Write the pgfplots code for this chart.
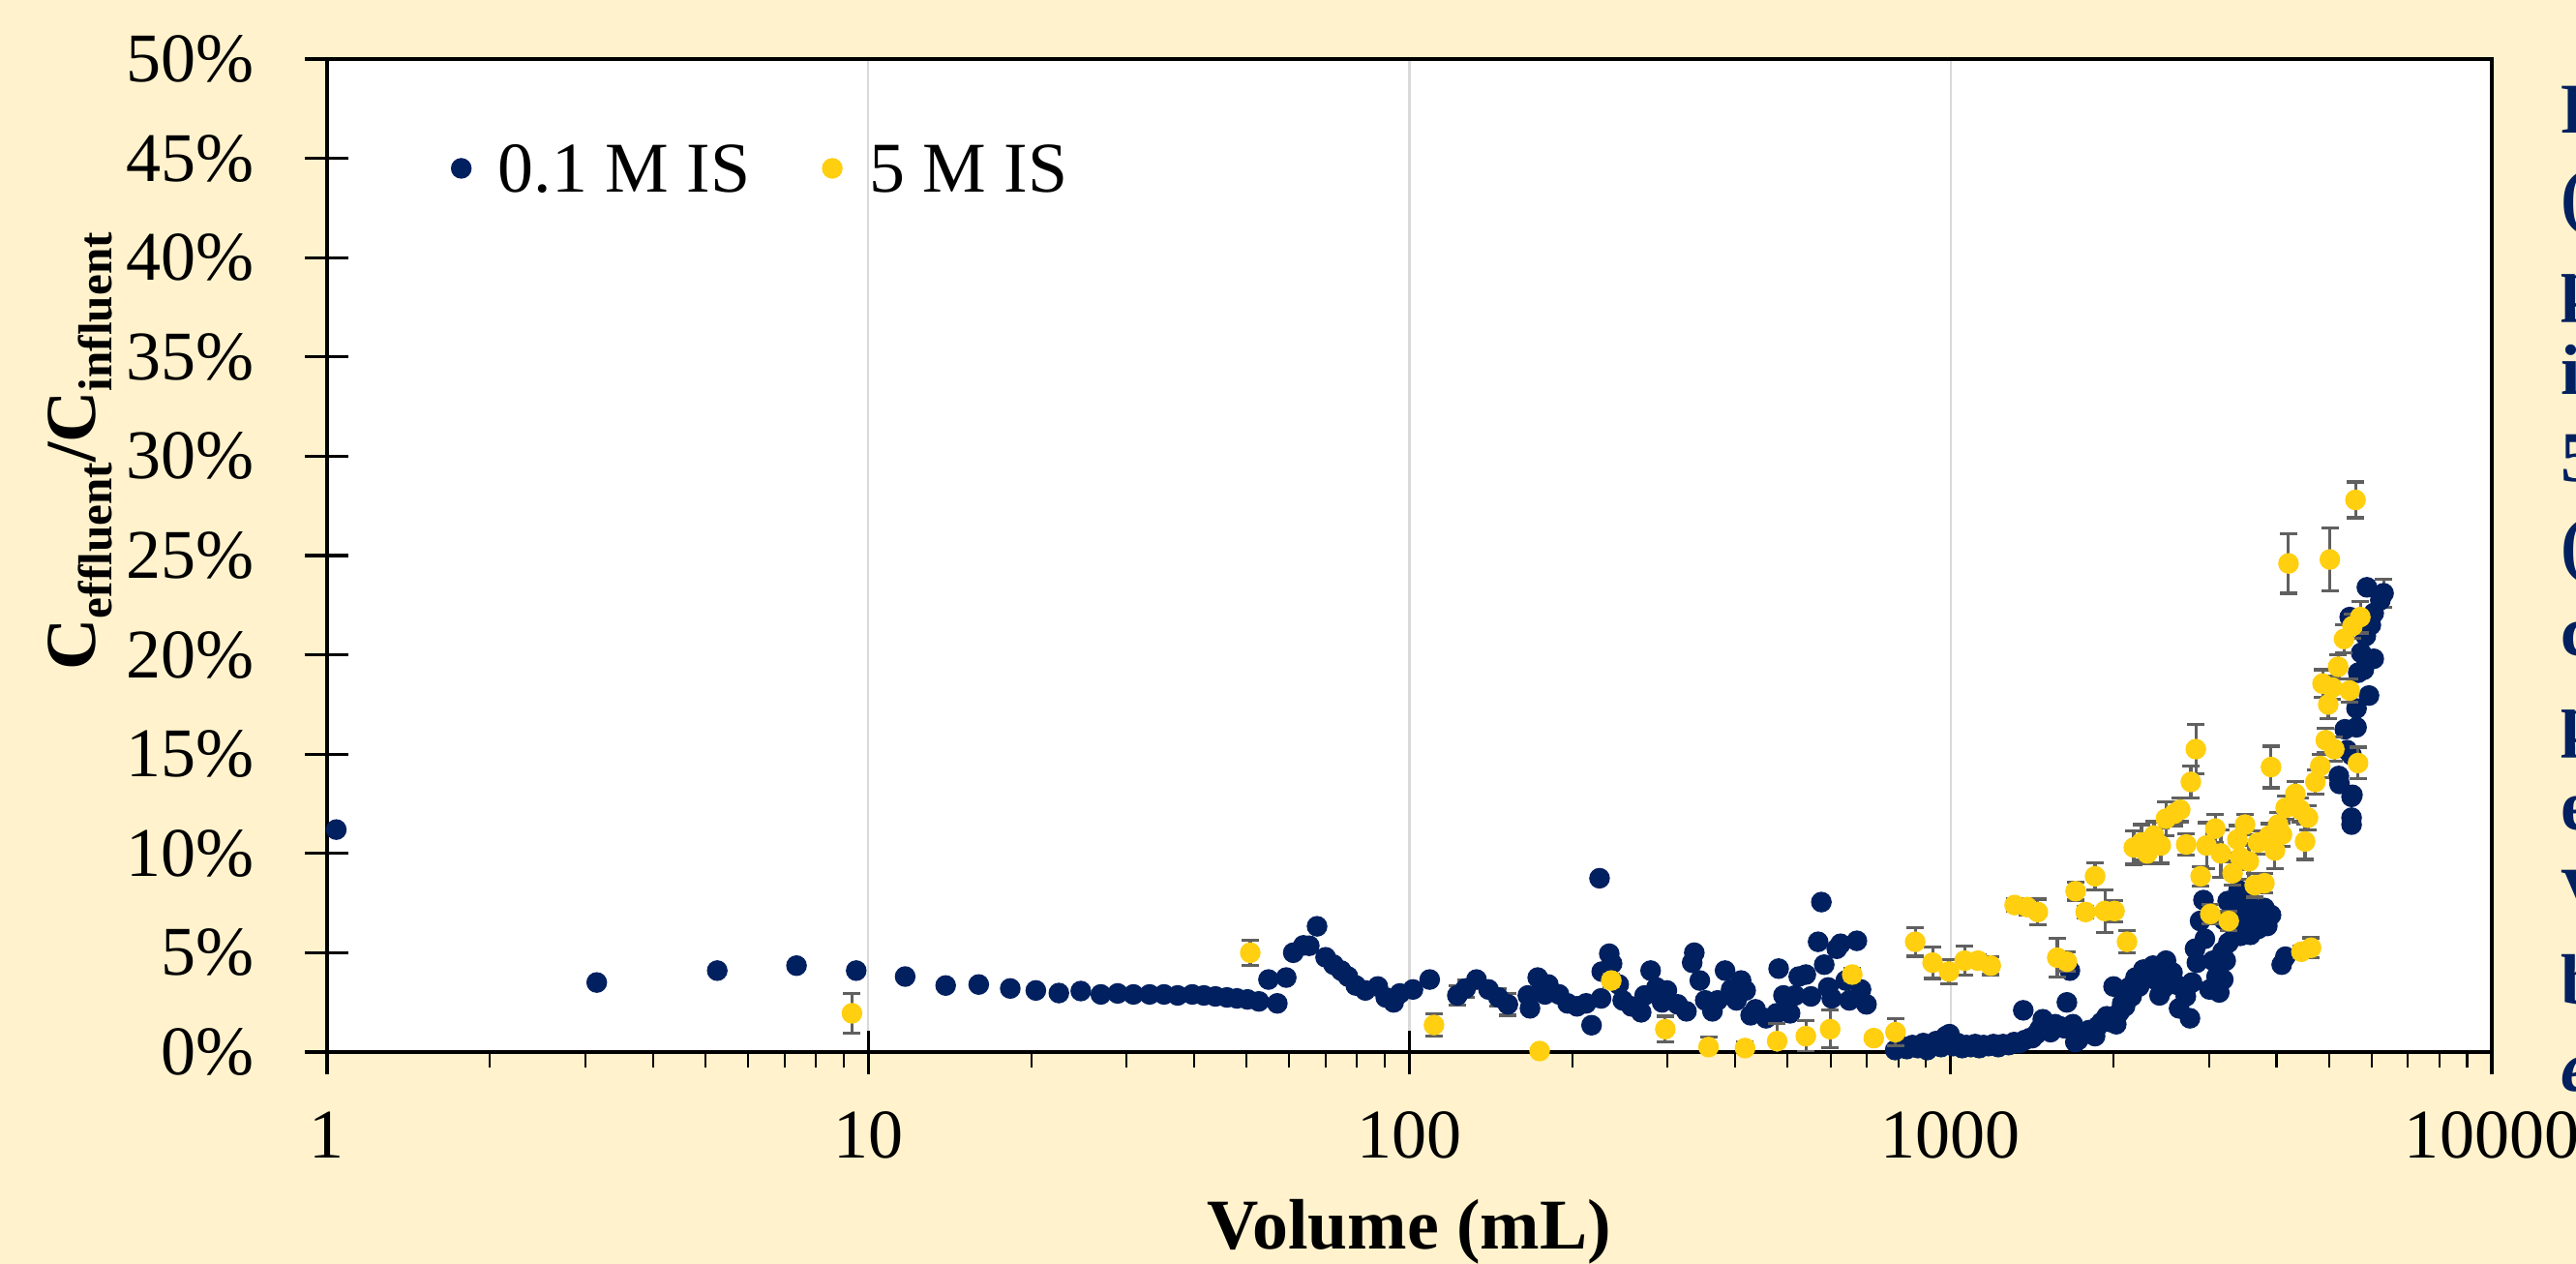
\documentclass[border=0pt]{standalone}
\usepackage{fontspec}
\setmainfont{Liberation Serif}
\usepackage{pgfplots}
\usepackage{pgfplotstable}
\pgfplotsset{compat=1.18}
\definecolor{cream}{HTML}{FFF2CC}
\definecolor{navy}{HTML}{002060}
\definecolor{gold}{HTML}{FFCF10}
\definecolor{errgray}{HTML}{606060}
\definecolor{gridgray}{HTML}{D9D9D9}

\pgfplotstableread{
x y e
1.04 11.2 0
3.15 3.5 0
5.26 4.1 0
7.37 4.35 0
9.5 4.1 0
11.7 3.8 0
13.9 3.35 0
16.0 3.4 0
18.3 3.2 0
20.4 3.1 0
22.5 2.97 0
24.7 3.07 0
26.9 2.9 0
28.9 2.95 0
30.9 2.9 0
33.1 2.9 0
35.2 2.9 0
37.3 2.85 0
39.7 2.9 0
41.7 2.85 0
43.8 2.8 0
46.0 2.75 0
48.0 2.7 0
50.2 2.65 0
52.7 2.55 0
57.0 2.45 0
54.9 3.65 0
59.2 3.75 0
61.0 5.0 0
63.7 5.37 0
65.3 5.35 0
67.5 6.33 0
70.0 4.77 0
72.4 4.4 0
74.8 4.1 0
77.0 3.8 0
79.6 3.35 0
82.9 3.1 0
87.4 3.3 0
90.4 2.75 0
93.5 2.5 0
96.0 2.95 0
101.5 3.15 0
109 3.65 0
122.6 2.85 0.5
127 3.2 0.45
133 3.65 0
140 3.15 0
146 2.75 0.45
152 2.4 0.55
165.5 2.85 0
167 2.2 0
172.6 3.75 0
176 3.35 0
178 2.9 0
180.6 3.4 0
189 2.9 0
196 2.45 0
204 2.3 0
212 2.45 0
217 1.35 0
224.5 8.75 0
226 2.7 0
226.6 4.05 0
234 4.95 0
236.8 4.45 0
243.6 3.4 0
247.8 2.6 0
257 2.3 0
268 2.0 0
272 2.85 0
279 4.1 0
286 3.25 0
293 2.5 0
299 3.1 0
313 2.4 0
325 2.05 0
333 4.5 0
336 5.0 0
344 3.6 0
352 2.6 0
363 2.05 0
371 2.6 0
383 4.1 0
393 3.15 0
402 2.6 0
410 3.6 0
418 3.1 0
427 1.85 0
436 2.15 0
456 1.7 0
477 1.95 0
481 4.2 0
491 2.85 0
505 1.95 0
516 2.85 0
524 3.8 0
540 3.9 0
552 2.8 0
569 5.55 0
577 7.55 0
584 4.4 0
594 3.25 0
603 2.7 0
616 5.2 0
626 5.45 0
640 3.6 0
650 2.6 0
671 5.6 0
683 3.15 0
699 2.4 0
790 0.1 0
810 0.3 0
830 0.15 0
850 0.35 0
870 0.2 0
890 0.45 0
905 0.1 0
920 0.3 0
940 0.55 0
960 0.25 0
980 0.8 0
995 0.9 0
1010 0.3 0
1030 0.45 0
1050 0.2 0
1070 0.35 0
1090 0.25 0
1110 0.4 0
1130 0.2 0
1150 0.35 0
1175 0.3 0
1200 0.4 0
1225 0.25 0
1250 0.4 0
1280 0.35 0
1310 0.5 0
1340 0.45 0
1362 2.1 0
1370 0.6 0
1400 0.7 0
1415 0.7 0
1440 0.9 0
1460 1.15 0
1480 1.65 0
1500 1.2 0
1530 1.0 0
1560 1.4 0
1590 1.3 0
1620 1.2 0
1640 2.5 0
1661 4.1 0
1682 1.4 0
1700 0.5 0
1720 0.6 0
1760 0.9 0
1800 1.1 0
1849 0.8 0
1870 1.3 0
1900 1.5 0
1943 1.8 0
1980 1.5 0
2000 3.3 0
2023 1.4 0
2050 2.0 0
2075 2.45 0
2100 2.3 0
2135 3.25 0
2160 2.8 0
2196 3.75 0
2230 3.3 0
2271 4.15 0
2320 3.9 0
2366 4.35 0
2400 3.6 0
2432 2.85 0
2470 3.2 0
2500 4.6 0
2540 3.8 0
2570 4.0 0
2610 3.4 0
2643 2.2 0
2680 3.25 0
2720 2.8 0
2768 1.7 0
2793 3.5 0
2829 5.2 0
2851 4.5 0
2890 6.6 0
2932 7.65 0
2950 5.7 0
3009 3.15 0
3053 4.6 0
3100 3.8 0
3136 3.0 0
3180 5.05 0
3190 3.65 0
3199 6.65 0
3223 4.6 0
3250 7.6 0
3260 5.5 0
3319 7.25 0
3360 6.0 0
3404 8.15 0
3430 5.85 0
3460 6.5 0
3501 7.4 0
3520 6.3 0
3550 7.8 0
3580 5.9 0
3600 6.05 0
3646 6.75 0
3690 6.6 0
3700 6.2 0
3740 7.0 0
3760 6.6 0
3800 7.25 0
3848 6.35 0
3909 6.9 0
4090 4.4 0
4155 4.8 0
5215 13.9 0
5230 13.5 0
5506 12.85 0
5506 11.8 0
5506 11.45 0
5527 12.95 0
5351 16.25 0
5623 16.35 0
5506 14.95 0
5400 15.2 0
5623 17.3 0
5930 17.95 0
5665 19.1 0
5800 19.25 0
6050 19.8 0
5735 20.1 0
5850 20.95 0
5976 21.5 0
6050 22.1 0
5463 21.9 0
6223 22.75 0
6308 23.1 0.7
5877 23.4 0
}\lowis

\pgfplotstableread{
x y e
9.33 1.95 1.0
50.8 5.0 0.63
111 1.36 0.57
174 0.05 0
236 3.6 0.3
297 1.15 0.65
357 0.25 0.5
417 0.2 0.3
478 0.55 0.9
540 0.8 0.8
599 1.15 0.95
658 3.9 0.3
721 0.7 0.2
791 1.0 0.7
860 5.55 0.73
926 4.5 0.8
993 4.05 0.6
1061 4.6 0.74
1123 4.6 0.3
1186 4.35 0.45
1313 7.4 0.3
1384 7.3 0.4
1449 7.05 0.65
1574 4.75 0.97
1640 4.55 0.5
1702 8.1 0.45
1776 7.05 0.3
1849 8.85 0.67
1927 7.1 1.08
2008 7.1 0.53
2118 5.55 0.57
2180 10.3 0.85
2253 10.55 0.9
2308 10.0 0.5
2376 10.9 0.7
2445 10.4 0.9
2499 11.75 0.85
2589 12.0 0.6
2656 12.2 0.6
2724 10.45 0.55
2779 13.6 0.8
2838 15.25 1.25
2897 8.85 0.5
2970 10.4 1.15
3019 6.95 0.5
3084 11.25 0.7
3157 10.0 1.2
3265 6.6 0.5
3319 9.0 0.6
3387 10.7 0.7
3429 9.8 0.6
3500 11.45 0.5
3557 9.6 0.9
3646 8.4 0.6
3697 10.55 0.6
3800 8.5 0.5
3881 10.9 0.6
3909 14.35 1.05
3975 10.15 0.9
4028 11.45 0.6
4095 10.95 0.6
4159 12.3 0.6
4210 24.6 1.5
4335 13.0 0.6
4424 12.2 0.6
4447 5.05 0.3
4518 10.6 0.9
4575 11.8 0.6
4634 5.25 0.5
4720 13.6 0.6
4820 14.4 0.6
4866 18.55 0.7
4933 15.7 0.6
4985 17.5 0.7
5020 24.8 1.6
5072 18.35 0.6
5115 15.25 0.6
5200 19.4 0.6
5332 20.8 0.7
5463 18.2 0.6
5527 21.45 0.6
5598 27.8 0.9
5659 14.55 0.8
5715 21.9 0.8
}\highis

\begin{document}
\begin{tikzpicture}
\fill[cream] (0,0) rectangle (266.2mm,130.6mm);
\begin{scope}
\clip (0,0) rectangle (266.2mm,130.6mm);
\begin{axis}[
  scale only axis, width=223.7mm, height=102.6mm,
  at={(33.8mm,21.9mm)}, anchor=south west,
  xmode=log, xmin=1, xmax=10000, ymin=0, ymax=50,
  xtick={1,10,100,1000,10000}, xticklabels={1,10,100,1000,10000},
  minor xtick={2,3,4,5,6,7,8,9,20,30,40,50,60,70,80,90,200,300,400,500,600,700,800,900,2000,3000,4000,5000,6000,7000,8000,9000},
  ytick={0,5,...,50},
  xtick pos=bottom, ytick pos=left,
  yticklabel={\pgfmathprintnumber{\tick}\%},
  /pgf/number format/assume math mode=true,
  axis background/.style={fill=white},
  axis line style={black, line width=1.3pt},
  tick align=outside, major tick length=2.3mm, minor tick length=1.6mm,
  major tick style={black, line width=0.9pt},
  minor tick style={black, line width=0.6pt},
  extra x ticks={1,10,100,1000,10000}, extra x tick labels={},
  extra y ticks={0,5,...,50}, extra y tick labels={},
  extra tick style={tick align=inside, major tick length=2.2mm, grid=none},
  xmajorgrids, major grid style={gridgray, line width=0.6pt},
  tick label style={font=\fontsize{20.5}{24}\selectfont},
  xticklabel style={anchor=north, inner sep=0pt, yshift=-3.8mm},
  yticklabel style={anchor=east, inner sep=0pt, xshift=-5.2mm},
  xlabel={\textbf{Volume (mL)}},
  xlabel style={font=\fontsize{21}{25}\selectfont, at={(axis description cs:0.5,-0.198)}, anchor=base},
  ylabel={\textbf{C\raisebox{-5pt}{\fontsize{14}{16}\selectfont effluent}/C\raisebox{-5pt}{\fontsize{14}{16}\selectfont influent}}},
  ylabel style={font=\fontsize{21}{25}\selectfont, at={(axis description cs:-0.114,0.605)}, anchor=center},
  clip mode=individual,
  legend style={at={(axis description cs:0.0572,0.8899)}, anchor=west, draw=none, fill=none, inner sep=0pt,
    font=\fontsize{21}{25}\selectfont, nodes={inner sep=0pt, text depth=0pt},
    /tikz/every odd column/.append style={column sep=2.8mm},
    /tikz/every even column/.append style={column sep=7.5mm}},
  legend columns=2,
  legend image code/.code={\draw[mark repeat=2,mark phase=2,#1] plot coordinates {(-1mm,0cm) (0cm,0cm) (1mm,0cm)};},
  error bars/y dir=both, error bars/y explicit,
  error bars/error bar style={errgray, line width=0.9pt},
  error bars/error mark options={errgray, line width=0.9pt, mark size=0.9mm, rotate=90},
]
\addplot[only marks, mark=*, mark size=1mm, color=navy, mark options={fill=navy, draw=navy}]
  table[x=x, y=y, y error=e] {\lowis};
\addlegendentry{0.1 M IS}
\addplot[only marks, mark=*, mark size=1mm, color=gold, mark options={fill=gold, draw=gold}]
  table[x=x, y=y, y error=e] {\highis};
\addlegendentry{5 M IS}
\end{axis}
\begin{scope}[every node/.style={anchor=base west, inner sep=0pt, text=navy, font=\fontsize{21}{25}\selectfont\bfseries}]
\node at (264.6mm,116.8mm) {F};
\node at (264.6mm,107.8mm) {(};
\node at (264.6mm,98.8mm) {p};
\node at (264.6mm,89.8mm) {i};
\node at (264.6mm,80.8mm) {5};
\node at (264.6mm,71.8mm) {(};
\node at (264.6mm,62.8mm) {c};
\node at (264.6mm,53.8mm) {p};
\node at (264.6mm,44.8mm) {e};
\node at (264.6mm,35.8mm) {V};
\node at (264.6mm,26.8mm) {b};
\node at (264.6mm,17.8mm) {\itshape e};
\end{scope}
\end{scope}
\pgfresetboundingbox
\useasboundingbox (0,0) rectangle (266.2mm,130.6mm);
\end{tikzpicture}
\end{document}
